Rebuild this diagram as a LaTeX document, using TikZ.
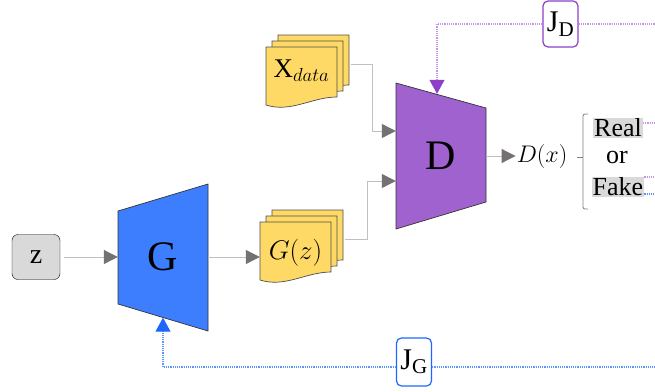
\RequirePackage{fix-cm}
\documentclass[tikz,border=0pt]{standalone}
\usepackage{fontspec}
\setmainfont{Liberation Serif}
\usepackage{xcolor}
\usetikzlibrary{arrows.meta, positioning, calc}

\definecolor{genblue}{HTML}{3D7EFF}
\definecolor{dispurple}{HTML}{A062CF}
\definecolor{docyellow}{HTML}{FFD966}
\definecolor{lossblue}{HTML}{1F66FF}
\definecolor{glosslight}{HTML}{5B93FF}
\definecolor{losspurple}{HTML}{8E3FC9}
\definecolor{dlosslight}{HTML}{C496E8}
\definecolor{linkgray}{HTML}{C0C0C0}
\definecolor{tipgray}{HTML}{767171}

% 文档堆叠：名称, 前页左上角 x, y, 文字高度, 文字
\newcommand{\docstack}[5]{%
  \foreach \pg in {12,6,0} {
    \draw[docpage] ({#2+\pg},{#3-\pg}) -- ++(71,0) -- ++(0,50)
      .. controls +(-25,0) and +(25,8) .. ++(-71,8) -- cycle;
  }
  \node[inner sep=0pt, minimum width=71pt, minimum height=40pt] (#1) at ({#2+35.5},{#3+#4}) {#5};
  \coordinate (#1 out) at ({#2+85},{#3+17.5});
}

\begin{document}
\begin{tikzpicture}[x=1pt, y=-1pt,
    link/.style={draw=linkgray, line width=1pt, -{Triangle[length=14pt, width=14pt, color=tipgray]}},
    docpage/.style={draw=black!70, fill=docyellow, line width=0.7pt},
    dloss/.style={draw=dlosslight, line width=1.2pt, densely dotted},
    gloss/.style={draw=glosslight, line width=1.2pt, densely dotted},
    lossbox/.style={rounded corners=5pt, fill=white, line width=1.2pt, minimum width=35pt, minimum height=46pt, inner sep=0pt, font=\fontsize{30}{30}\selectfont},
    verdict/.style={fill=gray!30, inner sep=1pt, font=\fontsize{26}{26}\selectfont},
    net/.style={draw=black!80, line width=0.7pt},
  ]
    \useasboundingbox (0,0) rectangle (655,391);

    % 输入噪声
    \node[draw, fill=gray!30, rounded corners=6pt, minimum width=48pt, minimum height=45pt, font=\fontsize{28}{28}\selectfont] (z) at (36,257) {z};

    % 生成器
    \draw[net, fill=genblue] (118,211) -- (208,184) -- (208,331) -- (118,304) -- cycle;
    \node[minimum width=90pt, minimum height=93pt, font=\fontsize{42}{42}\selectfont] (G) at (163,257) {G};

    % 判别器
    \draw[net, fill=dispurple] (396,83) -- (486,108) -- (486,202) -- (396,229) -- cycle;
    \node[minimum width=90pt, minimum height=146pt, font=\fontsize{42}{42}\selectfont] (D) at (441,156) {D};

    % 数据
    \docstack{xdata}{266}{47}{24}{\fontsize{27}{27}\selectfont$\mathrm{X}_{data}$}
    \docstack{gz}{260}{222}{31}{\fontsize{27}{27}\selectfont$G(z)$}

    \draw[link, shorten <=4pt] (z) -- (G);
    \draw[link] (G) -- (G -| gz.west);
    \draw[link] (xdata out) -| ([xshift=-23pt, yshift=25pt]D.west) -- ([yshift=25pt]D.west);
    \draw[link] (gz out) -| ([xshift=-28pt, yshift=-25pt]D.west) -- ([yshift=-25pt]D.west);

    % 输出
    \node[inner sep=1pt, font=\fontsize{24}{24}\selectfont] (dx) at (542,156) {$D(x)$};
    \draw[link] (D) -- (dx);

    \node[verdict] (real) at (618,128) {Real};
    \node[inner sep=1pt, font=\fontsize{26}{26}\selectfont] (orword) at (617,157) {or};
    \node[verdict] (fake) at (618,187) {Fake};
    \draw[draw=gray, line width=0.8pt, rounded corners=2pt] (588,114) -- (583,114) -- (583,209) -- (588,209);
    \draw[draw=gray, line width=0.8pt] (577,157) -- (583,157);

    % 损失
    \node[lossbox, draw=losspurple] (jd) at (560.5,24) {J\textsubscript{D}};
    \node[lossbox, draw=lossblue, minimum height=48pt] (jg) at (414,362) {J\textsubscript{G}};

    \coordinate (jd edge) at (655,24);
    \coordinate (real edge) at (655,123);
    \coordinate (fake edge) at (655,177);
    \coordinate (fake gedge) at (655,194);
    \coordinate (jg edge) at (655,367);

    \draw[dloss, -{Triangle[length=14pt, width=15pt, color=losspurple]}] (jd.west) -| ([xshift=-4pt, yshift=-11pt]D.north);
    \draw[dloss] (jd.east) -- (jd edge);
    \draw[dloss] ([yshift=5pt]real.east) -- (real edge);
    \draw[dloss] ([yshift=10pt]fake.east) -- (fake edge);
    \draw[gloss] ([yshift=-7pt]fake.east) -- (fake gedge);
    \draw[gloss, -{Triangle[length=14pt, width=15pt, color=lossblue]}] ([yshift=-5pt]jg.west) -| ([yshift=-14pt]G.south);
    \draw[gloss] ([yshift=-5pt]jg.east) -- (jg edge);
\end{tikzpicture}
\end{document}
